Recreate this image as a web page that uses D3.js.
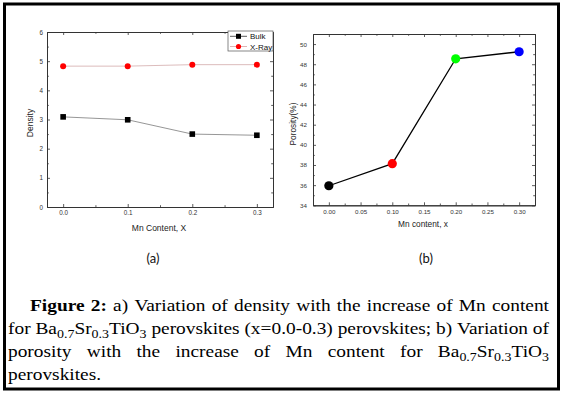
<!DOCTYPE html>
<html>
<head>
<meta charset="utf-8">
<script src="https://cdn.jsdelivr.net/npm/d3@7"></script>
<style>
  html, body { margin: 0; padding: 0; background: #fff; }
  svg { display: block; }
</style>
</head>
<body>
<svg id="fig" width="564" height="398"></svg>
<script>
// ---------------- data ----------------
const mnContent = [0.0, 0.1, 0.2, 0.3];
const bulkDensity = [3.09, 2.99, 2.50, 2.46];
const xrayDensity = [4.83, 4.83, 4.88, 4.88];
const porosity = [35.94, 38.13, 48.54, 49.24];
const porosityColors = ["#000000", "#ff0000", "#00ff00", "#0000ff"];

const densityYTicks = [0, 1, 2, 3, 4, 5, 6];
const densityYMinor = [0.5, 1.5, 2.5, 3.5, 4.5, 5.5];
const densityXTicks = [0.0, 0.1, 0.2, 0.3];
const densityXMinor = [0.05, 0.15, 0.25];
const porosityYTicks = [34, 36, 38, 40, 42, 44, 46, 48, 50];
const porosityYMinor = [35, 37, 39, 41, 43, 45, 47, 49];
const porosityXTicks = [0.00, 0.05, 0.10, 0.15, 0.20, 0.25, 0.30];
const porosityXMinor = [0.025, 0.075, 0.125, 0.175, 0.225, 0.275];

const legendLabels = ["Bulk", "X-Ray"];
const panelLabels = ["(a)", "(b)"];
const captionLines = [
  "**Figure 2:** a) Variation of density with the increase of Mn content",
  "for Ba_{0.7}Sr_{0.3}TiO_{3} perovskites (x=0.0-0.3) perovskites; b) Variation of",
  "porosity with the increase of Mn content for Ba_{0.7}Sr_{0.3}TiO_{3}",
  "perovskites."
];

// ---------------- drawing ----------------
const svg = d3.select("#fig");
const SANS = "'Liberation Sans', Arial, sans-serif";
const SERIF = "'Liberation Serif', 'Times New Roman', serif";

// outer frame
svg.append("rect").attr("x", 4.5).attr("y", 4).attr("width", 554).attr("height", 385)
  .attr("fill", "none").attr("stroke", "#000").attr("stroke-width", 3);

function frameAxes(g, x, y, opts) {
  const [x0, x1] = x.range();
  const [y0, y1] = y.range();
  const col = opts.color;
  const style = sel => {
    sel.select(".domain").attr("stroke", col).attr("stroke-width", 1);
    sel.selectAll(".tick line").attr("stroke", col).attr("stroke-width", 0.8);
    sel.selectAll(".tick text").attr("fill", opts.labelColor).attr("font-family", SANS)
      .attr("font-size", opts.tickFont);
  };
  g.append("g").attr("transform", `translate(0,${y0})`)
    .call(d3.axisBottom(x).tickValues(opts.xTicks).tickFormat(opts.xFmt).tickSize(-3).tickSizeOuter(0).tickPadding(opts.xPad))
    .call(style);
  g.append("g").attr("transform", `translate(0,${y0})`)
    .call(d3.axisBottom(x).tickValues(opts.xMinor).tickFormat("").tickSize(-1.8).tickSizeOuter(0))
    .call(style);
  g.append("g").attr("transform", `translate(0,${y1})`)
    .call(d3.axisTop(x).tickValues(opts.xTicks).tickFormat("").tickSize(-3).tickSizeOuter(0))
    .call(style);
  g.append("g").attr("transform", `translate(0,${y1})`)
    .call(d3.axisTop(x).tickValues(opts.xMinor).tickFormat("").tickSize(-1.8).tickSizeOuter(0))
    .call(style);
  g.append("g").attr("transform", `translate(${x0},0)`)
    .call(d3.axisLeft(y).tickValues(opts.yTicks).tickFormat(opts.yFmt).tickSize(-3).tickSizeOuter(0).tickPadding(opts.yPad))
    .call(style);
  g.append("g").attr("transform", `translate(${x0},0)`)
    .call(d3.axisLeft(y).tickValues(opts.yMinor).tickFormat("").tickSize(-1.8).tickSizeOuter(0))
    .call(style);
  g.append("g").attr("transform", `translate(${x1},0)`)
    .call(d3.axisRight(y).tickValues(opts.yTicks).tickFormat("").tickSize(-3).tickSizeOuter(0))
    .call(style);
  g.append("g").attr("transform", `translate(${x1},0)`)
    .call(d3.axisRight(y).tickValues(opts.yMinor).tickFormat("").tickSize(-1.8).tickSizeOuter(0))
    .call(style);
}

// ---------- panel (a) ----------
{
  const g = svg.append("g");
  const x = d3.scaleLinear().domain([-0.025, 0.325]).range([47, 273]);
  const y = d3.scaleLinear().domain([0, 6]).range([207, 32]);

  const line = d3.line().x((d, i) => x(mnContent[i])).y(d => y(d));
  g.append("path").datum(bulkDensity).attr("d", line).attr("fill", "none")
    .attr("stroke", "#8a8a8a").attr("stroke-width", 0.9);
  g.append("path").datum(xrayDensity).attr("d", line).attr("fill", "none")
    .attr("stroke", "#d8b4b4").attr("stroke-width", 0.9);

  frameAxes(g, x, y, {
    color: "#333", labelColor: "#333", tickFont: 6.3,
    xTicks: densityXTicks, xMinor: densityXMinor, xFmt: d3.format(".1f"), xPad: 4,
    yTicks: densityYTicks, yMinor: densityYMinor, yFmt: d3.format("d"), yPad: 4
  });

  g.selectAll("rect.bulk").data(bulkDensity).join("rect").attr("class", "bulk")
    .attr("x", (d, i) => x(mnContent[i]) - 2.8).attr("y", d => y(d) - 2.8)
    .attr("width", 5.6).attr("height", 5.6).attr("fill", "#000");
  g.selectAll("circle.xray").data(xrayDensity).join("circle").attr("class", "xray")
    .attr("cx", (d, i) => x(mnContent[i])).attr("cy", d => y(d)).attr("r", 3)
    .attr("fill", "#ff0000");

  const lg = g.append("g");
  lg.append("rect").attr("x", 228).attr("y", 31).attr("width", 45).attr("height", 20)
    .attr("fill", "#fff").attr("stroke", "#555").attr("stroke-width", 0.7);
  lg.append("line").attr("x1", 230).attr("x2", 247).attr("y1", 36.3).attr("y2", 36.3)
    .attr("stroke", "#333").attr("stroke-width", 0.8);
  lg.append("rect").attr("x", 236).attr("y", 33.8).attr("width", 5).attr("height", 5).attr("fill", "#000");
  lg.append("line").attr("x1", 230).attr("x2", 247).attr("y1", 46.5).attr("y2", 46.5)
    .attr("stroke", "#d8a0a0").attr("stroke-width", 0.8);
  lg.append("circle").attr("cx", 238.5).attr("cy", 46.5).attr("r", 2.6).attr("fill", "#ff0000");
  lg.selectAll("text").data(legendLabels).join("text")
    .attr("x", 250).attr("y", (d, i) => 39.2 + i * 10.3)
    .attr("font-family", SANS).attr("font-size", 8).attr("fill", "#111").text(d => d);

  g.append("text").attr("x", 159).attr("y", 231).attr("text-anchor", "middle")
    .attr("font-family", SANS).attr("font-size", 8.5).attr("fill", "#222").text("Mn Content, X");
  g.append("text").attr("transform", "translate(33,123) rotate(-90)").attr("text-anchor", "middle")
    .attr("font-family", SANS).attr("font-size", 8.5).attr("fill", "#222").text("Density");
}

// ---------- panel (b) ----------
{
  const g = svg.append("g");
  const x = d3.scaleLinear().domain([-0.025, 0.325]).range([313, 535]);
  const y = d3.scaleLinear().domain([34, 51]).range([205.3, 34]);

  frameAxes(g, x, y, {
    color: "#333", labelColor: "#333", tickFont: 6.2,
    xTicks: porosityXTicks, xMinor: porosityXMinor, xFmt: d3.format(".2f"), xPad: 4,
    yTicks: porosityYTicks, yMinor: porosityYMinor, yFmt: d3.format("d"), yPad: 6
  });

  const line = d3.line().x((d, i) => x(mnContent[i])).y(d => y(d));
  g.append("path").datum(porosity).attr("d", line).attr("fill", "none")
    .attr("stroke", "#000").attr("stroke-width", 1.3);
  g.selectAll("circle.por").data(porosity).join("circle").attr("class", "por")
    .attr("cx", (d, i) => x(mnContent[i])).attr("cy", d => y(d)).attr("r", 4.6)
    .attr("fill", (d, i) => porosityColors[i]);

  g.append("text").attr("x", 423).attr("y", 227).attr("text-anchor", "middle")
    .attr("font-family", SANS).attr("font-size", 8.3).attr("fill", "#222").text("Mn content, x");
  g.append("text").attr("transform", "translate(296,124) rotate(-90)").attr("text-anchor", "middle")
    .attr("font-family", SANS).attr("font-size", 8.3).attr("fill", "#222").text("Porosity(%)");
}

svg.selectAll("text.plab").data(panelLabels).join("text").attr("class", "plab")
  .attr("x", (d, i) => [153, 426][i]).attr("y", 263).attr("text-anchor", "middle")
  .attr("font-family", "Lato, 'Open Sans', sans-serif").attr("font-size", 13).attr("fill", "#111")
  .text(d => d);

// ---------------- caption ----------------
{
  const FS = 16.8;
  const cap = svg.append("g");
  const lineSpec = [
    { x0: 30, x1: 549, y: 311, justify: true },
    { x0: 8, x1: 549, y: 333.5, justify: true },
    { x0: 8, x1: 549, y: 356.5, justify: true },
    { x0: 8, x1: 549, y: 379.5, justify: false }
  ];
  function segments(word, boldState) {
    const segs = [];
    let bold = boldState.b;
    let i = 0, buf = "";
    const flush = (sub) => { if (buf) { segs.push({ t: buf, bold, sub: !!sub }); buf = ""; } };
    while (i < word.length) {
      if (word.startsWith("**", i)) { flush(); bold = !bold; i += 2; continue; }
      if (word.startsWith("_{", i)) {
        flush();
        const j = word.indexOf("}", i);
        buf = word.slice(i + 2, j); flush(true);
        i = j + 1; continue;
      }
      buf += word[i]; i++;
    }
    flush();
    boldState.b = bold;
    return segs;
  }
  const probe = cap.append("text").attr("font-family", SERIF).attr("font-size", FS).text("a a");
  const w2 = probe.node().getComputedTextLength();
  probe.text("aa");
  const spaceW = w2 - probe.node().getComputedTextLength();
  probe.remove();

  const boldState = { b: false };
  const built = captionLines.map((ln, li) => {
    const spec = lineSpec[li];
    const lg = cap.append("g");
    const words = ln.split(" ");
    const nodes = words.map(w => {
      const t = lg.append("text").attr("font-family", SERIF).attr("font-size", FS).attr("fill", "#000");
      const segs = segments(w, boldState);
      let shifted = false;
      segs.forEach(s => {
        const ts = t.append("tspan").text(s.t).attr("font-weight", s.bold ? "bold" : "normal");
        if (s.sub) {
          ts.attr("font-size", FS * 0.72);
          if (!shifted) { ts.attr("dy", 4); shifted = true; }
        } else if (shifted) { ts.attr("dy", -4); shifted = false; }
      });
      return t;
    });
    const widths = nodes.map(n => n.node().getComputedTextLength());
    return { spec, lg, nodes, widths, words };
  });
  // horizontal stretch: line 2 is set with natural spacing across the full width
  const ref = built[1];
  const natural = d3.sum(ref.widths) + spaceW * (ref.words.length - 1);
  const sx = (ref.spec.x1 - ref.spec.x0) / natural;
  built.forEach(({ spec, lg, nodes, widths, words }) => {
    lg.attr("transform", `translate(${spec.x0},${spec.y}) scale(${sx},1)`);
    const total = d3.sum(widths);
    const avail = (spec.x1 - spec.x0) / sx;
    const gap = spec.justify && words.length > 1 ? (avail - total) / (words.length - 1) : spaceW;
    let cx = 0;
    nodes.forEach((n, k) => { n.attr("x", cx); cx += widths[k] + gap; });
  });
}
</script>
</body>
</html>
